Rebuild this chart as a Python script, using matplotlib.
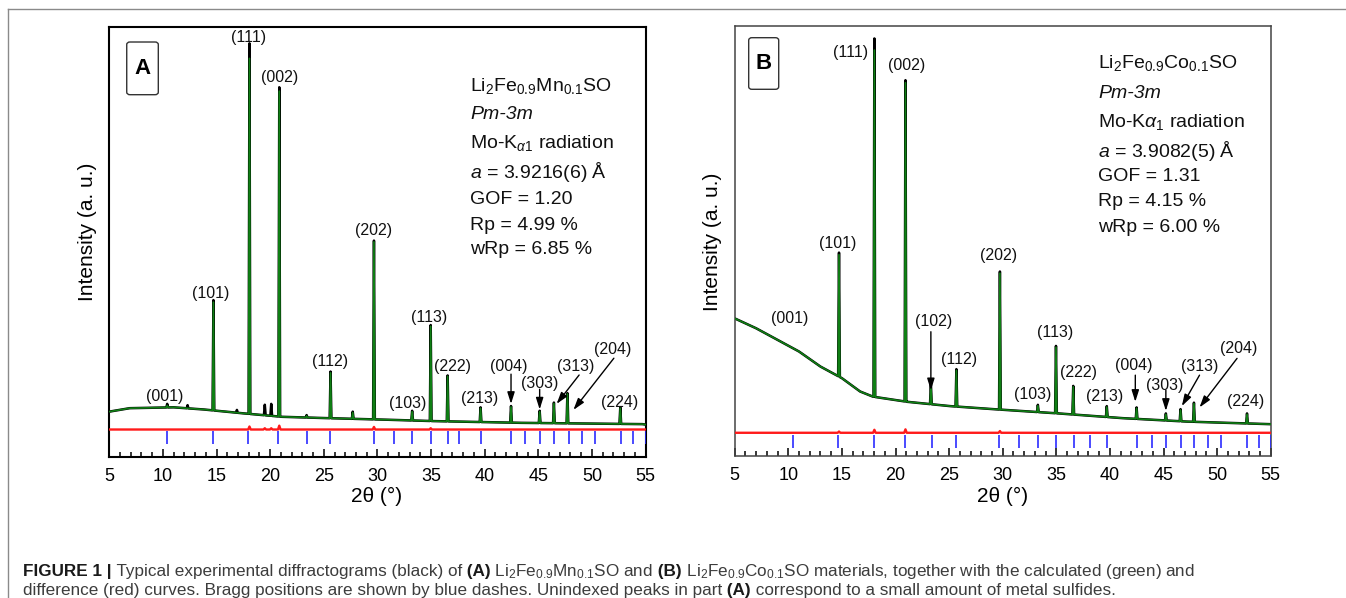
import numpy as np
import matplotlib
matplotlib.use("Agg")
import matplotlib.pyplot as plt
from matplotlib.patches import FancyBboxPatch
from matplotlib.lines import Line2D

plt.rcParams['font.family'] = ['Liberation Sans', 'DejaVu Sans']
plt.rcParams['mathtext.fontset'] = 'custom'
plt.rcParams['mathtext.rm'] = 'Liberation Sans'
plt.rcParams['mathtext.it'] = 'Liberation Sans:italic'
plt.rcParams['mathtext.bf'] = 'Liberation Sans:bold'

# ---------------- panel A : Li2Fe0.9Mn0.1SO ----------------
bragg_a = [10.34, 14.69, 17.96, 20.76, 23.44, 25.61, 29.65, 31.52, 33.22, 34.96,
           36.56, 37.6, 39.67, 42.48, 43.81, 45.15, 46.45, 47.82, 49.09, 50.29,
           52.70, 53.86, 55.0]
bg_a_x = [5.0, 6.9, 11.0, 13.8, 17.5, 21.1, 25.2, 31.2, 35.3, 43.4, 54.7, 55.0]
bg_a_y = [10.6, 11.4, 11.6, 11.1, 10.2, 9.4, 9.1, 8.7, 8.4, 8.0, 7.7, 7.6]
peak_a_pos = [10.40, 14.71, 18.07, 20.85, 23.40, 25.63, 27.70, 29.68, 33.24, 34.97,
              36.55, 39.62, 42.46, 45.13, 46.46, 47.72, 52.65]
peak_a_obs = [12.4, 36.5, 96.1, 85.9, 9.8, 19.9, 10.6, 50.3, 10.8, 30.7,
              19.0, 11.6, 11.9, 10.8, 12.7, 14.9, 11.6]
peak_a_calc = [12.0, 36.0, 92.6, 85.0, 9.6, 19.6, 10.4, 50.0, 10.6, 30.4,
               18.8, 11.4, 11.7, 10.6, 12.5, 14.7, 11.4]
# unindexed reflections (metal sulfides), observed only
extra_a_pos = [12.3, 16.9, 19.5, 20.1]
extra_a_obs = [12.1, 11.0, 12.2, 12.4]
diff_a_level = 6.45
diff_a_pos = [18.07, 19.5, 20.1, 20.85, 29.68, 34.97]
diff_a_amp = [0.7, 0.3, 0.3, 0.9, 0.6, 0.3]
tick_a = (3.0, 6.0)

hkl_a = ['(001)', '(101)', '(111)', '(002)', '(112)', '(202)', '(103)', '(113)',
         '(222)', '(213)', '(004)', '(303)', '(313)', '(204)', '(224)']
hkl_a_x = [10.18, 14.43, 17.99, 20.90, 25.55, 29.60, 32.83, 34.85,
           37.00, 39.51, 42.26, 45.09, 48.49, 51.97, 52.57]
hkl_a_y = [14.2, 38.1, 97.4, 88.2, 22.2, 52.6, 12.5, 32.4,
           21.1, 13.7, 21.1, 17.2, 21.1, 25.1, 12.8]
arrow_a_tail = [(42.46, 19.3), (45.13, 15.8), (48.81, 19.1), (52.05, 23.0)]
arrow_a_head = [(42.46, 12.4), (45.13, 11.1), (46.71, 12.4), (48.28, 11.0)]

info_a = [r'Li$_2$Fe$_{0.9}$Mn$_{0.1}$SO', 'Pm-3m', r'Mo-K$_{\alpha 1}$ radiation',
          r'$a$ = 3.9216(6) Å', 'GOF = 1.20', 'Rp = 4.99 %', 'wRp = 6.85 %']
info_a_y = [86.2, 79.5, 72.9, 66.2, 59.9, 53.9, 48.3]

# ---------------- panel B : Li2Fe0.9Co0.1SO ----------------
bragg_b = [10.43, 14.65, 18.03, 20.93, 23.42, 25.68, 29.70, 31.55, 33.28, 34.97,
           36.66, 38.19, 39.71, 42.53, 43.90, 45.23, 46.63, 47.84, 49.13, 50.33,
           52.79, 53.95, 55.0]
bg_b_x = [5.0, 7.0, 9.0, 11.0, 13.0, 15.0, 16.7, 17.9, 21.1, 25.1, 29.1, 35.2,
          41.2, 47.2, 55.0]
bg_b_y = [32.0, 29.7, 27.0, 24.3, 20.8, 18.1, 15.0, 13.8, 12.6, 11.6, 10.9, 9.9,
          8.8, 8.0, 7.4]
peak_b_pos = [14.73, 18.03, 20.93, 23.30, 25.68, 29.74, 33.28, 34.97, 36.58,
              39.71, 42.49, 45.22, 46.59, 47.84, 52.79]
peak_b_obs = [47.3, 97.1, 87.4, 16.9, 20.2, 42.9, 11.9, 25.6, 16.3,
              11.6, 11.3, 9.9, 10.9, 12.4, 9.9]
peak_b_calc = [46.8, 94.4, 86.8, 16.5, 19.9, 42.5, 11.7, 25.3, 16.1,
               11.4, 11.1, 9.7, 10.7, 12.2, 9.7]
diff_b_level = 5.4
diff_b_pos = [14.73, 18.03, 20.93, 29.74]
diff_b_amp = [0.3, 0.7, 0.8, 0.4]
tick_b = (1.8, 4.9)

hkl_b = ['(001)', '(101)', '(111)', '(002)', '(102)', '(112)', '(202)', '(103)',
         '(113)', '(222)', '(213)', '(004)', '(303)', '(313)', '(204)', '(224)']
hkl_b_x = [10.15, 14.65, 15.78, 21.01, 23.58, 25.92, 29.62, 32.84,
           34.85, 37.06, 39.47, 42.21, 45.10, 48.36, 51.98, 52.67]
hkl_b_y = [31.9, 49.5, 93.8, 90.8, 31.2, 22.5, 46.7, 14.2,
           28.8, 19.5, 13.8, 21.0, 16.5, 20.8, 24.9, 12.6]
arrow_b_tail = [(23.30, 28.9), (42.37, 18.8), (45.22, 15.3), (48.36, 18.8), (51.86, 22.7)]
arrow_b_head = [(23.30, 15.3), (42.37, 12.6), (45.22, 10.5), (46.71, 11.6), (48.36, 11.3)]

info_b = [r'Li$_2$Fe$_{0.9}$Co$_{0.1}$SO', 'Pm-3m', r'Mo-K$\alpha_1$ radiation',
          r'$a$ = 3.9082(5) Å', 'GOF = 1.31', 'Rp = 4.15 %', 'wRp = 6.00 %']
info_b_y = [91.3, 84.2, 77.7, 71.0, 65.1, 59.1, 53.1]

GREEN = '#0f7f14'


def profile(bg_x, bg_y, pos, top, hw=0.08):
    """Background line with a narrow triangular peak at every position"""
    xs = list(bg_x)
    ys = list(bg_y)
    for p, t in zip(pos, top):
        xs += [p - hw, p, p + hw]
        ys += [np.interp(p - hw, bg_x, bg_y), t, np.interp(p + hw, bg_x, bg_y)]
    order = np.argsort(xs, kind='stable')
    return np.array(xs)[order], np.array(ys)[order]


def diff_curve(level, pos, amp, hw=0.12):
    xs = [5.0, 55.0]
    ys = [level, level]
    for p, a in zip(pos, amp):
        xs += [p - hw, p, p + hw]
        ys += [level, level + a, level]
    order = np.argsort(xs, kind='stable')
    return np.array(xs)[order], np.array(ys)[order]


def draw_panel(ax, letter, bg_x, bg_y, pos, obs, calc, ex_pos, ex_obs,
               d_level, d_pos, d_amp, bragg, tick, hkl, hx, hy, tails, heads,
               info, info_x, info_y, spine_col, spine_w, box_xy, box_wh):
    xo, yo = profile(bg_x, bg_y, list(pos) + list(ex_pos), list(obs) + list(ex_obs))
    xc, yc = profile(bg_x, bg_y, pos, calc)
    xd, yd = diff_curve(d_level, d_pos, d_amp)

    ax.plot(xo, yo, color='black', lw=1.8, zorder=2)
    ax.plot(xc, yc, color=GREEN, lw=1.2, zorder=3)
    ax.plot(xd, yd, color='#ff1a1a', lw=1.7, zorder=3)
    ax.vlines(bragg, tick[0], tick[1], color='#2b2bff', lw=1.2, zorder=3)

    for s, x, y in zip(hkl, hx, hy):
        ax.text(x, y, s, ha='center', va='center', fontsize=11.5, color='#111111')
    for t, h in zip(tails, heads):
        ax.annotate('', xy=h, xytext=t,
                    arrowprops=dict(arrowstyle='-|>,head_length=0.7,head_width=0.22',
                                    color='black', lw=1.0, shrinkA=0, shrinkB=0))

    for i, (s, y) in enumerate(zip(info, info_y)):
        ax.text(info_x, y, s, ha='left', va='center', fontsize=14,
                style='italic' if i == 1 else 'normal', color='#111111')

    box = FancyBboxPatch(box_xy, box_wh[0], box_wh[1],
                         boxstyle='round,pad=0,rounding_size=0.006',
                         transform=ax.transAxes, fc='white', ec='#333333', lw=1.0)
    ax.add_patch(box)
    ax.text(box_xy[0] + box_wh[0] / 2, box_xy[1] + box_wh[1] / 2, letter,
            transform=ax.transAxes, ha='center', va='center',
            fontsize=16, fontweight='bold')

    ax.set_xlim(5, 55)
    ax.set_ylim(0, 100)
    ax.set_xticks(np.arange(5, 56, 5))
    ax.set_xticks(np.arange(5, 56, 1), minor=True)
    ax.set_yticks([])
    ax.tick_params(axis='x', which='both', direction='in', top=False,
                   labelsize=13, pad=8, color='black', width=1.1)
    ax.tick_params(axis='x', which='major', length=6)
    ax.tick_params(axis='x', which='minor', length=3.5)
    for sp in ax.spines.values():
        sp.set_color(spine_col)
        sp.set_linewidth(spine_w)

    ax.set_xlabel('2θ (°)', fontsize=15)
    ax.set_ylabel('Intensity (a. u.)', fontsize=15)
    ax.xaxis.label.set_va('center')
    ax.yaxis.label.set_va('center')


W, H = 1346, 598
fig = plt.figure(figsize=(W / 100, H / 100), dpi=100)

ax_a = fig.add_axes([109.3 / W, 1 - 457.3 / H, 536.2 / W, 430.8 / H])
ax_b = fig.add_axes([734.7 / W, 1 - 456 / H, 536 / W, 430 / H])

draw_panel(ax_a, 'A', bg_a_x, bg_a_y, peak_a_pos, peak_a_obs, peak_a_calc,
           extra_a_pos, extra_a_obs, diff_a_level, diff_a_pos, diff_a_amp,
           bragg_a, tick_a, hkl_a, hkl_a_x, hkl_a_y, arrow_a_tail, arrow_a_head,
           info_a, 38.68, info_a_y, 'black', 1.5, (0.0325, 0.8417), (0.0589, 0.1223))
draw_panel(ax_b, 'B', bg_b_x, bg_b_y, peak_b_pos, peak_b_obs, peak_b_calc,
           [], [], diff_b_level, diff_b_pos, diff_b_amp,
           bragg_b, tick_b, hkl_b, hkl_b_x, hkl_b_y, arrow_b_tail, arrow_b_head,
           info_b, 38.9, info_b_y, '#444444', 1.1, (0.0261, 0.8528), (0.056, 0.1200))

ax_a.xaxis.set_label_coords(0.498, -0.09)
ax_a.yaxis.set_label_coords(-0.040, 0.523)
ax_b.xaxis.set_label_coords(0.499, -0.0945)
ax_b.yaxis.set_label_coords(-0.042, 0.498)

# outer frame of the figure (top and left edges only fall inside the canvas)
fig.add_artist(Line2D([8 / W, 1.0], [1 - 9 / H, 1 - 9 / H], color='#8a8a8a', lw=1.0))
fig.add_artist(Line2D([8 / W, 8 / W], [0.0, 1 - 9 / H], color='#8a8a8a', lw=1.0))

# caption, drawn piece by piece so that bold and regular runs follow each other
renderer = fig.canvas.get_renderer()


def caption_line(x_px, y_px, parts, size=12.3):
    x = x_px
    for s, bold in parts:
        t = fig.text(x / W, 1 - y_px / H, s, fontsize=size,
                     fontweight='bold' if bold else 'normal',
                     color='#1a1a1a' if bold else '#3c3c3c', va='baseline')
        x += t.get_window_extent(renderer).width


caption_line(23, 576, [
    ('FIGURE 1 |', True),
    (' Typical experimental diffractograms (black) of', False),
    (' (A)', True),
    (r' Li$_2$Fe$_{0.9}$Mn$_{0.1}$SO and', False),
    (' (B)', True),
    (r' Li$_2$Fe$_{0.9}$Co$_{0.1}$SO materials, together with the calculated (green) and', False),
])
caption_line(23, 595, [
    ('difference (red) curves. Bragg positions are shown by blue dashes. Unindexed peaks in part', False),
    (' (A)', True),
    (' correspond to a small amount of metal sulfides.', False),
])

fig.savefig('out.png', dpi=100)
